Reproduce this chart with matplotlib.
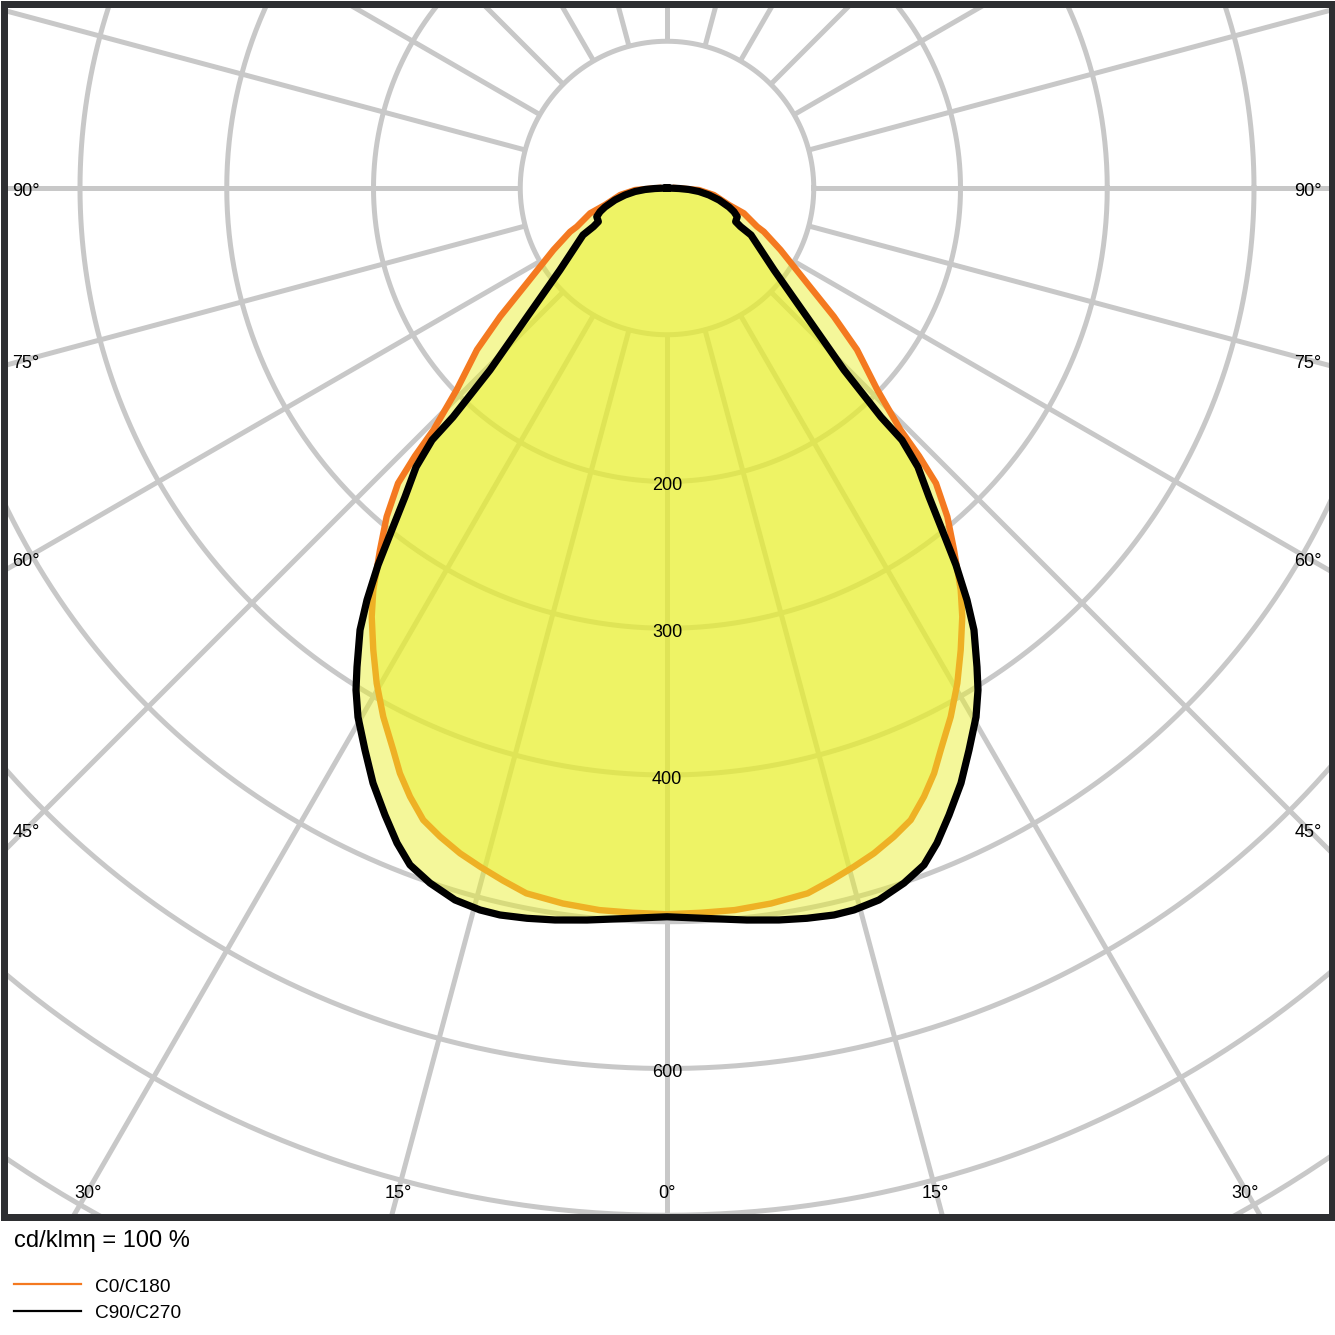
import numpy as np
import matplotlib
matplotlib.use("Agg")
import matplotlib.pyplot as plt
from matplotlib.lines import Line2D

plt.rcParams['font.family'] = ['Liberation Sans', 'DejaVu Sans']

# luminous intensity (cd/klm) against gamma (deg from nadir), one half of each plane
gamma_c0 = [0, 2.7, 5.35, 8.27, 11.28, 13.32, 15.4, 17.28, 19.28, 21.09, 22.89, 24.53,
            25.97, 28.22, 30.38, 32.44, 34.56, 36.15, 38.41, 40.46, 42.33, 43.24, 44.0,
            46.2, 49.6, 52.4, 55.8, 61.4, 65.7, 66.8, 71.8, 74.7, 81.5, 86.4, 90]
cd_c0 = [494.9, 494.4, 494.2, 492.7, 490.1, 485.0, 479.7, 474.8, 468.3, 461.6, 450.2, 438.4,
         426.0, 408.9, 391.2, 373.1, 354.7, 339.3, 314.8, 294.4, 272.2, 250.7, 228.9,
         198.4, 170.0, 143.4, 115.4, 88.1, 72.4, 66.8, 55.1, 43.8, 32.3, 21.8, 6]

gamma_c90 = [0, 3.13, 6.24, 8.7, 10.85, 12.94, 14.52, 16.58, 18.83, 20.79, 22.4, 24.22,
             26.29, 28.25, 30.29, 31.78, 32.91, 34.78, 36.06, 37.47, 38.95, 40.3, 41.97,
             42.99, 43.06, 44.2, 47.34, 52.54, 60.77, 62.3, 63.9, 67.8, 70.5, 72.96, 77.0,
             80.54, 83.76, 86.1, 87.6, 90]
cd_c90 = [496.6, 498.5, 501.8, 504.6, 506.7, 508.3, 508.2, 506.2, 500.4, 493.4, 482.8, 468.5,
          452.3, 434.8, 417.5, 402.4, 388.8, 366.7, 347.3, 323.7, 297.0, 276.1, 255.7,
          234.8, 213.6, 173.0, 129.7, 91.9, 65.6, 56.6, 52.1, 51.7, 48.4, 44.2, 36.4,
          29.0, 21.9, 15.0, 8.2, 0]

grid_circles = [100, 200, 300, 400, 500, 600, 700, 800, 900]
ring_labels = [200, 300, 400, 600]
side_angles = [90, 75, 60, 45]
bottom_angles = [30, 15, 0]

W = 1335
S = 1.4675          # pixels per cd
CX, CY = 667, 188   # pole position in pixels

fig = plt.figure(figsize=(W / 100, W / 100), dpi=100)
ax = fig.add_axes([3.5 / W, 1 - 1217 / W, 1328 / W, 1213.5 / W])
ax.set_xlim((3.5 - CX) / S, (1331.5 - CX) / S)
ax.set_ylim(-(1217 - CY) / S, (CY - 3.5) / S)
ax.set_xticks([])
ax.set_yticks([])
for sp in ax.spines.values():
    sp.set_linewidth(5.04)
    sp.set_color('#2e2f32')
    sp.set_zorder(20)

grid_col = '#c8c8c8'
t = np.linspace(0, 2 * np.pi, 721)
for r in grid_circles:
    ax.plot(r * np.cos(t), r * np.sin(t), color=grid_col, lw=3.6, zorder=1)
for a in range(0, 360, 15):
    ar = np.radians(a)
    ax.plot([100 * np.sin(ar), 1100 * np.sin(ar)], [-100 * np.cos(ar), -1100 * np.cos(ar)],
            color=grid_col, lw=3.6, zorder=1, solid_capstyle='butt')


def outline(gam, cd):
    g = np.radians(np.array(gam))
    v = np.array(cd, dtype=float)
    xr, yr = v * np.sin(g), -v * np.cos(g)
    xs = np.concatenate([-xr[::-1], xr[1:]])
    ys = np.concatenate([yr[::-1], yr[1:]])
    return xs, ys


fill_col = '#e8ef2c'
x0, y0 = outline(gamma_c0, cd_c0)
ax.fill(x0, y0, color=fill_col, alpha=0.48, lw=0, zorder=2)
ax.plot(x0, y0, color='#f47920', lw=4.6, zorder=3, solid_joinstyle='round')
x9, y9 = outline(gamma_c90, cd_c90)
ax.fill(x9, y9, color=fill_col, alpha=0.48, lw=0, zorder=4)
ax.plot(x9, y9, color='black', lw=5.2, zorder=5, solid_joinstyle='round')

for r in ring_labels:
    ax.text(0, -(r + 3), str(r), ha='center', va='center', fontsize=13, zorder=6)

# angle labels along the frame
h = (CX - 26) / S
for a in side_angles:
    yy = -h / np.tan(np.radians(a)) if a != 90 else 0
    ax.text(-h, yy - 2.5, f"{a}°", ha='center', va='center', fontsize=13, zorder=6)
    ax.text(h, yy - 2.5, f"{a}°", ha='center', va='center', fontsize=13, zorder=6)
v = (1190 - CY) / S
for a in bottom_angles:
    xx = v * np.tan(np.radians(a))
    ax.text(-xx, -v - 2.5, f"{a}°", ha='center', va='center', fontsize=13, zorder=6)
    if a:
        ax.text(xx, -v - 2.5, f"{a}°", ha='center', va='center', fontsize=13, zorder=6)

fig.text(14 / W, 1 - 1241 / W, "cd/klmη = 100 %", fontsize=17, ha='left', va='center')
fig.add_artist(Line2D([14 / W, 81 / W], [1 - 1284 / W] * 2, color='#f47920', lw=1.6))
fig.add_artist(Line2D([14 / W, 81 / W], [1 - 1311 / W] * 2, color='black', lw=1.6))
fig.text(95 / W, 1 - 1287 / W, "C0/C180", fontsize=13.8, ha='left', va='center')
fig.text(95 / W, 1 - 1314 / W, "C90/C270", fontsize=13.8, ha='left', va='center')

fig.savefig('out.png', dpi=100, facecolor='white')
